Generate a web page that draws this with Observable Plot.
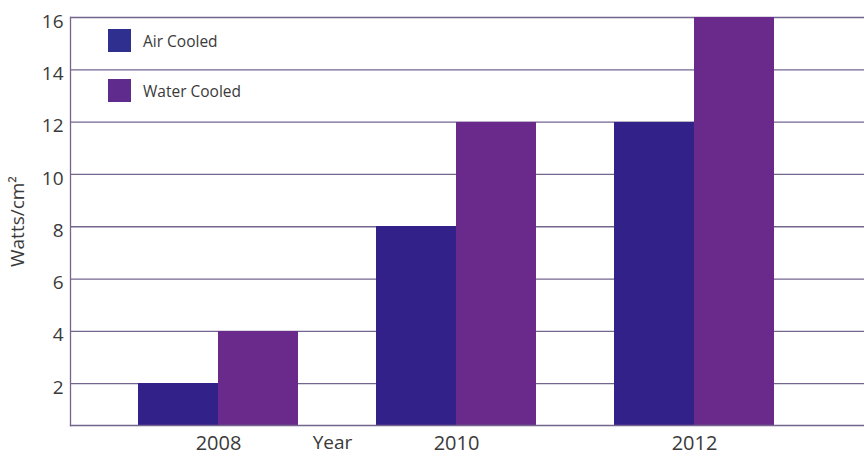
<!DOCTYPE html>
<html>
<head>
<meta charset="utf-8">
<script src="https://cdn.jsdelivr.net/npm/d3@7"></script>
<script src="https://cdn.jsdelivr.net/npm/@observablehq/plot@0.6"></script>
<style>
  body { margin: 0; background: #fff; }
  #wrap { position: relative; width: 864px; height: 455px; font-family: "Open Sans", sans-serif; }
  .legend { position: absolute; left: 108px; top: 29px; font-size: 15.5px; color: #3a3a3a; }
  .item { display: flex; align-items: center; height: 23px; margin-bottom: 27px; }
  .sw { width: 23px; height: 23px; margin-right: 12px; }
</style>
</head>
<body>
<div id="wrap"></div>
<script>
const years = ["2008", "2010", "2012"];
const seriesNames = ["Air Cooled", "Water Cooled"];
const airCooled = [2, 8, 12];
const waterCooled = [4, 12, 16];
const yTicks = [2, 4, 6, 8, 10, 12, 14, 16];
const xLabel = "Year";
const yLabel = "Watts/cm²";

const airColor = "#33218a";
const waterColor = "#692a8b";
const gridColor = "#74658f";
const textColor = "#3a3a3a";

const airData = years.map((year, i) => ({year, series: seriesNames[0], value: airCooled[i]}));
const waterData = years.map((year, i) => ({year, series: seriesNames[1], value: waterCooled[i]}));

const xRange = [136.5, 775];
const padInner = 0.326;
const band = d3.scaleBand(years, xRange).paddingInner(padInner).paddingOuter(0);
const half = band.bandwidth() / 2;

const chart = Plot.plot({
  width: 864,
  height: 455,
  marginLeft: 70,
  marginRight: 0,
  marginTop: 17,
  marginBottom: 30,
  style: {fontFamily: "'Open Sans', sans-serif", color: textColor, background: "#fff"},
  x: {type: "band", domain: years, range: xRange, paddingInner: padInner, paddingOuter: 0, axis: null},
  y: {domain: [0.4, 16], axis: null},
  marks: [
    Plot.gridY(yTicks, {stroke: gridColor, strokeOpacity: 1, strokeWidth: 1.3}),
    Plot.barY(airData, {x: "year", y: "value", fill: airColor, insetRight: half - 1.5, insetLeft: 0, clip: true, shapeRendering: "crispEdges"}),
    Plot.barY(waterData, {x: "year", y: "value", fill: waterColor, insetLeft: half, insetRight: 0, clip: true, shapeRendering: "crispEdges"}),
    Plot.frame({anchor: "left", stroke: gridColor, strokeWidth: 1.3}),
    Plot.frame({anchor: "bottom", stroke: gridColor, strokeWidth: 1.3}),
    Plot.axisY(yTicks, {tickSize: 0, tickPadding: 7, fontSize: 19, dy: 4, fill: textColor,
      label: yLabel, labelAnchor: "center", labelArrow: "none", labelOffset: 60}),
    Plot.axisX({tickSize: 0, tickPadding: 10, fontSize: 20, fill: textColor, label: null}),
    Plot.text([xLabel], {frameAnchor: "bottom-left", textAnchor: "middle", lineAnchor: "top", dx: 262, dy: 10, fontSize: 19, fill: textColor})
  ]
});

const wrap = document.getElementById("wrap");
wrap.appendChild(chart);

const legend = document.createElement("div");
legend.className = "legend";
[[seriesNames[0], "#2e2f8f"], [seriesNames[1], "#5f2c8d"]].forEach(([name, c]) => {
  const it = document.createElement("div");
  it.className = "item";
  const sw = document.createElement("div");
  sw.className = "sw";
  sw.style.background = c;
  const t = document.createElement("span");
  t.textContent = name;
  it.appendChild(sw);
  it.appendChild(t);
  legend.appendChild(it);
});
wrap.appendChild(legend);
</script>
</body>
</html>
